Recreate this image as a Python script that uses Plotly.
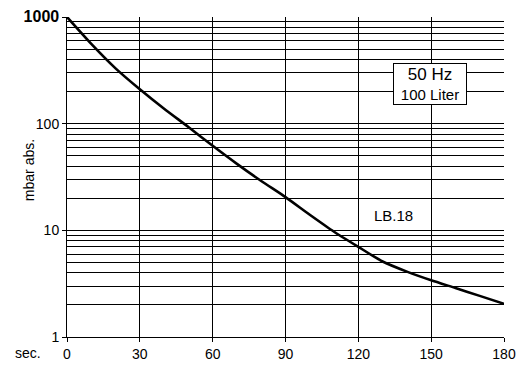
import plotly.graph_objects as go

time_s = [0, 10, 20, 30, 40, 50, 60, 70, 80, 90, 100, 110, 120, 130, 140, 150, 160, 170, 180]
pressure_mbar = [1000, 560, 330, 210, 138, 93, 62, 42, 29, 20.5, 14.0, 9.7, 7.0, 5.1, 4.1, 3.4, 2.88, 2.43, 2.05]

x_ticks = [0, 30, 60, 90, 120, 150, 180]
y_ticks = [1, 10, 100, 1000]
y_ticktext = ["1", "10", "100", "<b><span style='font-size:16px'>1000</span></b>"]
y_minor = [m * d for d in (1, 10, 100) for m in range(2, 10)]

FONT = "Liberation Sans Narrow, Arial Narrow, Liberation Sans, Arial"

fig = go.Figure()
fig.add_trace(go.Scatter(x=time_s, y=pressure_mbar, mode="lines",
                         line=dict(color="black", width=2.6, shape="spline", smoothing=0.6),
                         showlegend=False, hoverinfo="skip"))

fig.update_layout(
    width=522, height=365,
    margin=dict(l=67, r=18, t=17, b=28),
    paper_bgcolor="white", plot_bgcolor="white",
    font=dict(family=FONT, size=14, color="black"),
    xaxis=dict(range=[0, 180], tickvals=x_ticks, showgrid=True, gridcolor="black", gridwidth=1,
               showline=True, linecolor="black", linewidth=1, ticks="outside", ticklen=4,
               tickcolor="black", zeroline=False, automargin=False,
               tickfont=dict(size=14, family=FONT)),
    yaxis=dict(type="log", range=[0, 3], tickvals=y_ticks, ticktext=y_ticktext,
               showgrid=True, gridcolor="black", gridwidth=1,
               showline=True, linecolor="black", linewidth=1, ticks="outside", ticklen=4,
               tickcolor="black", zeroline=False, automargin=False,
               tickfont=dict(size=14, family=FONT),
               minor=dict(tickvals=y_minor, showgrid=True, gridcolor="black", gridwidth=1, ticks="")),
    annotations=[
        dict(text="mbar abs.", xref="paper", yref="paper", x=-0.088, y=0.52, xanchor="center",
             yanchor="middle", textangle=-90, showarrow=False,
             font=dict(size=14, family="Liberation Sans, Arial")),
        dict(text="sec.", xref="paper", yref="paper", x=-0.055, y=-0.05, xanchor="right",
             yanchor="middle", showarrow=False, font=dict(size=14, family="Liberation Sans, Arial")),
        dict(text="<span style='font-size:17px'>50 Hz</span><br>100 Liter", xref="paper", yref="paper",
             x=0.831, y=0.79, xanchor="center", yanchor="middle", showarrow=False,
             width=70, bgcolor="white", bordercolor="black", borderwidth=1, borderpad=1,
             font=dict(size=15, family="Liberation Sans, Arial")),
        dict(text="LB.18", xref="paper", yref="paper", x=0.746, y=0.381, xanchor="center",
             yanchor="middle", showarrow=False, bgcolor="white",
             font=dict(size=15, family="Liberation Sans, Arial")),
    ],
)

fig.write_html("out.html", config={"displayModeBar": False},
               post_script="document.body.style.margin='0';")
